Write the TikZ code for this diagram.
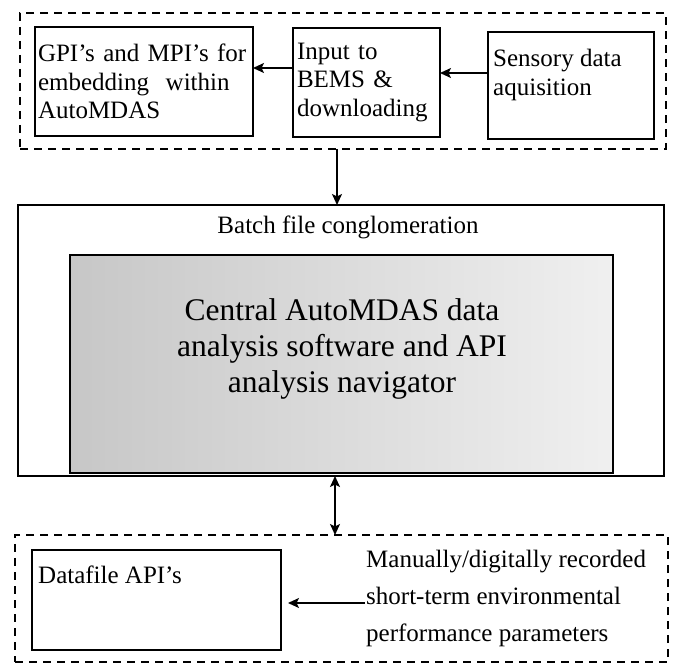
\documentclass[tikz,border=0pt]{standalone}
\usepackage{fontspec}
\setmainfont{Liberation Serif}
\usetikzlibrary{arrows.meta}

\begin{document}
\begin{tikzpicture}[x=1pt, y=-1pt,
  box/.style={draw, line width=1.8pt, anchor=north west, inner sep=0pt, outer sep=0pt},
  group/.style={draw, line width=1.6pt, dash pattern=on 8pt off 6pt, anchor=north west, inner sep=0pt, outer sep=0pt},
  boxtext/.style={font=\fontsize{25}{28.5}\selectfont, align=left, inner sep=0pt},
  tip/.tip={Stealth[length=11pt,width=10pt,inset=2.5pt]},
  conn/.style={line width=1.8pt, -tip},
  biconn/.style={line width=1.8pt, tip-tip},
]
\useasboundingbox (0,0) rectangle (673,663);

% ---- acquisition group ----
\node[group, minimum width=646pt, minimum height=136pt] (topgrp) at (20,13) {};
\node[box, boxtext, minimum width=218pt, minimum height=109pt, text width=212pt] (gpi) at (35,27)
  {GPI’s and MPI’s for\\embedding\ \ within\\AutoMDAS};
\node[box, boxtext, minimum width=147pt, minimum height=109pt, text width=139pt] (input) at (293,28)
  {Input to\\BEMS \&\\downloading};
\node[box, minimum width=166pt, minimum height=107pt] (sensory) at (488,32) {};
\node[boxtext, anchor=north west] (sensorytxt) at (493,49) {Sensory data\\aquisition};

% ---- batch / central software ----
\node[box, line width=1.6pt, minimum width=646pt, minimum height=271pt] (batch) at (18,205) {};
\node[font=\fontsize{25}{28}\selectfont, inner sep=0pt] (batchtxt) at (348,227) {Batch file conglomeration};
\node[box, line width=2.6pt, minimum width=543pt, minimum height=218pt,
      left color=black!22, right color=black!6] (central) at (70,255) {};
\node[font=\fontsize{31.5}{36}\selectfont, align=center, inner sep=0pt] (centraltxt) at (342,349)
  {Central AutoMDAS data\\analysis software and API\\analysis navigator};

% ---- data file group ----
\node[group, minimum width=653pt, minimum height=127pt] (botgrp) at (15,535) {};
\node[box, line width=1.5pt, minimum width=249pt, minimum height=100pt] (datafile) at (32,550) {};
\node[boxtext, anchor=north west] (datafiletxt) at (38,566) {Datafile API’s};
\node[font=\fontsize{25}{37}\selectfont, align=left, inner sep=0pt, anchor=north west] (manual) at (366,550)
  {Manually/digitally recorded\\short-term environmental\\performance parameters};

% ---- connectors ----
\coordinate (col) at (337,0);
\coordinate (col2) at (335,0);
\coordinate (src) at (365,603);
\draw[conn] ([yshift=14.5pt]input.west) -- ([yshift=14.5pt]input.west -| gpi.east);
\draw[conn] ([yshift=12.5pt]sensory.west) -- ([yshift=12.5pt]sensory.west -| input.east);
\draw[conn] (col |- topgrp.south) -- (col |- batch.north);
\draw[biconn] (col2 |- batch.south) -- (col2 |- botgrp.north);
\draw[conn] (src) -- ([xshift=7pt]src -| datafile.east);
\end{tikzpicture}
\end{document}
